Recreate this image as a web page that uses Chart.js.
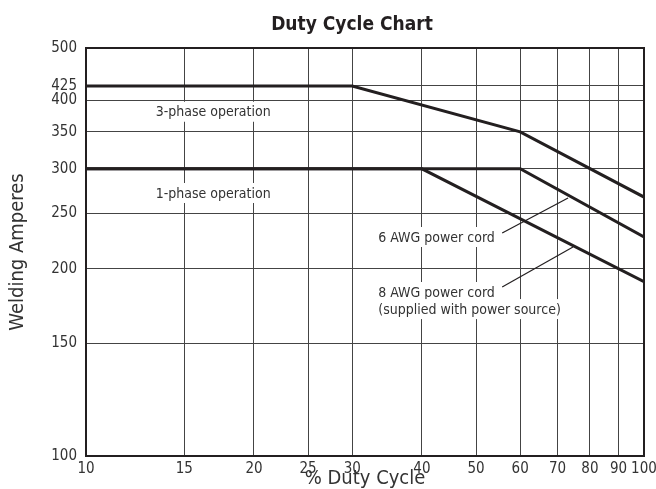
<!DOCTYPE html>
<html lang="en">
<head>
    <meta charset="UTF-8">
    <title>Duty Cycle Chart</title>
    <style>
        html, body { margin: 0; padding: 0; background: #fff; }
        #chartContainer { width: 656px; height: 489px; }
    </style>
    <script src="https://cdn.jsdelivr.net/npm/chart.js"></script>
</head>
<body>
    <div id="chartContainer">
        <canvas id="dutyChart"></canvas>
    </div>

    <script>
        // values
        const xTicks = [10, 15, 20, 25, 30, 40, 50, 60, 70, 80, 90, 100];
        const yTicks = [100, 150, 200, 250, 300, 350, 400, 425, 500];

        const threePhase = [{x: 10, y: 425}, {x: 30, y: 425}, {x: 60, y: 350}, {x: 100, y: 267}];
        const awg6 = [{x: 10, y: 300}, {x: 60, y: 300}, {x: 100, y: 227}];
        const awg8 = [{x: 10, y: 300}, {x: 40, y: 300}, {x: 100, y: 190}];

        // annotation anchors, in data units
        const labels = [
            {text: '3-phase operation', x: 16.9, y: 381, align: 'center'},
            {text: '1-phase operation', x: 16.9, y: 271.5, align: 'center'},
            {text: '6 AWG power cord', x: 33.4, y: 227, align: 'left'},
            {text: '8 AWG power cord', x: 33.4, y: 182.5, align: 'left'},
            {text: '(supplied with power source)', x: 33.4, y: 170.8, align: 'left'}
        ];
        const leaders = [
            [{x: 55.7, y: 230.7}, {x: 73.1, y: 266}],
            [{x: 55.7, y: 186.1}, {x: 74.6, y: 218.1}]
        ];

        const FONT = '"Liberation Sans Narrow", "DejaVu Sans Condensed", "Arial Narrow", sans-serif';
        const INK = '#231f20';

        // amp axis of the original paper is stretched at the low end
        const OFF = 25;
        class AmpScale extends Chart.LinearScale {
            static id = 'amps';
            static defaults = {};
            getPixelForValue(v) {
                const a = Math.log(this.min - OFF), b = Math.log(this.max - OFF);
                return this.getPixelForDecimal((Math.log(v - OFF) - a) / (b - a));
            }
            getValueForPixel(p) {
                const a = Math.log(this.min - OFF), b = Math.log(this.max - OFF);
                return Math.exp(a + this.getDecimalForPixel(p) * (b - a)) + OFF;
            }
        }
        Chart.register(AmpScale);

        const decorations = {
            id: 'decorations',
            beforeDatasetsDraw(chart) {
                const ctx = chart.ctx;
                const xs = chart.scales.x, ys = chart.scales.y;
                ctx.save();
                ctx.font = '14px ' + FONT;
                ctx.textBaseline = 'middle';
                labels.forEach(l => {
                    const px = xs.getPixelForValue(l.x);
                    const py = ys.getPixelForValue(l.y);
                    const w = ctx.measureText(l.text).width;
                    const left = l.align === 'center' ? px - w / 2 : px;
                    ctx.fillStyle = '#fff';
                    ctx.fillRect(left - 4, py - 10, w + 8, 20);
                    ctx.fillStyle = '#333';
                    ctx.textAlign = 'left';
                    ctx.fillText(l.text, left, py + 1);
                });
                ctx.strokeStyle = INK;
                ctx.lineWidth = 1.2;
                leaders.forEach(seg => {
                    ctx.beginPath();
                    ctx.moveTo(xs.getPixelForValue(seg[0].x), ys.getPixelForValue(seg[0].y));
                    ctx.lineTo(xs.getPixelForValue(seg[1].x), ys.getPixelForValue(seg[1].y));
                    ctx.stroke();
                });
                ctx.restore();
            },
            afterDraw(chart) {
                const ctx = chart.ctx;
                const a = chart.chartArea;
                ctx.save();
                ctx.strokeStyle = INK;
                ctx.lineWidth = 2;
                ctx.strokeRect(a.left, a.top, a.right - a.left, a.bottom - a.top);

                ctx.fillStyle = INK;
                ctx.textAlign = 'center';
                ctx.textBaseline = 'middle';
                ctx.font = 'bold 19px ' + FONT;
                ctx.fillText('Duty Cycle Chart', 352, 25);

                ctx.fillStyle = '#333';
                ctx.font = '20px ' + FONT;
                ctx.fillText('% Duty Cycle', (a.left + a.right) / 2, 479);
                ctx.translate(18, (a.top + a.bottom) / 2);
                ctx.rotate(-Math.PI / 2);
                ctx.fillText('Welding Amperes', 0, 0);
                ctx.restore();
            }
        };

        const lineStyle = {
            borderColor: INK,
            borderWidth: 3,
            pointRadius: 0,
            fill: false,
            tension: 0
        };

        new Chart(document.getElementById('dutyChart'), {
            type: 'line',
            data: {
                datasets: [
                    {label: '3-phase operation', data: threePhase, ...lineStyle},
                    {label: '6 AWG power cord', data: awg6, ...lineStyle},
                    {label: '8 AWG power cord', data: awg8, ...lineStyle}
                ]
            },
            options: {
                responsive: true,
                maintainAspectRatio: false,
                animation: false,
                layout: {padding: {top: 48, right: 12, left: 0, bottom: 0}},
                plugins: {
                    legend: {display: false},
                    tooltip: {enabled: false},
                    title: {display: false}
                },
                scales: {
                    x: {
                        type: 'logarithmic',
                        min: 10,
                        max: 100,
                        afterBuildTicks: s => { s.ticks = xTicks.map(v => ({value: v})); },
                        afterFit: s => { s.height = 33; s.paddingLeft = 0; s.paddingRight = 0; },
                        grid: {color: '#444', lineWidth: 1, drawTicks: false},
                        border: {display: false},
                        ticks: {
                            autoSkip: false,
                            maxRotation: 0,
                            padding: 4,
                            color: '#333',
                            font: {family: FONT, size: 15},
                            callback: v => String(v)
                        }
                    },
                    y: {
                        type: 'amps',
                        min: 100,
                        max: 500,
                        afterBuildTicks: s => { s.ticks = yTicks.map(v => ({value: v})); },
                        afterFit: s => { s.width = 86; },
                        grid: {color: '#444', lineWidth: 1, drawTicks: false},
                        border: {display: false},
                        ticks: {
                            autoSkip: false,
                            padding: 9,
                            color: '#333',
                            font: {family: FONT, size: 15},
                            callback: v => String(v)
                        }
                    }
                }
            },
            plugins: [decorations]
        });
    </script>
</body>
</html>
